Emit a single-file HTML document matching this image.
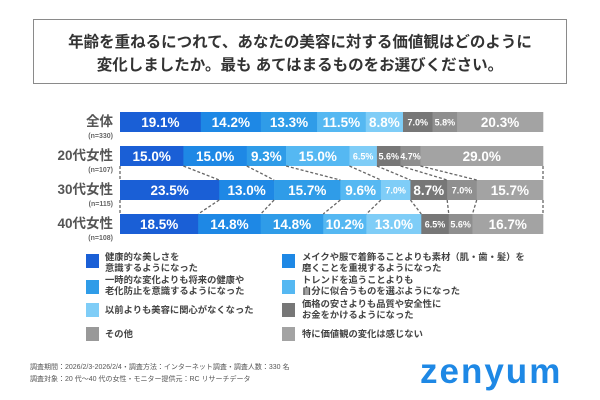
<!DOCTYPE html>
<html><head><meta charset="utf-8"><style>
html,body{margin:0;padding:0;background:#fff;width:600px;height:400px;overflow:hidden}
svg text{font-family:"Liberation Sans","Noto Sans CJK JP",sans-serif}
</style></head><body>
<svg id="s" width="600" height="400" viewBox="0 0 600 400" xmlns="http://www.w3.org/2000/svg">
<rect x="33.5" y="19.5" width="533" height="64" fill="#fff" stroke="#8a8a8a" stroke-width="1"/>
<text x="300" y="47" text-anchor="middle" font-size="15.5" font-weight="bold" fill="#333">年齢を重ねるにつれて、あなたの美容に対する価値観はどのように</text>
<text x="300" y="70" text-anchor="middle" font-size="15.5" font-weight="bold" fill="#333">変化しましたか。最も あてはまるものをお選びください。</text>
<g id="chart"></g>
<g font-size="9.3" font-weight="bold" fill="#444">
<rect x="86" y="254" width="13" height="14" fill="#1a5fd6"/>
<text x="105" y="260">健康的な美しさを</text><text x="105" y="271">意識するようになった</text>
<rect x="86" y="280" width="13" height="14" fill="#2f9ce8"/>
<text x="105" y="283">一時的な変化よりも将来の健康や</text><text x="105" y="294">老化防止を意識するようになった</text>
<rect x="86" y="303" width="13" height="14" fill="#7fcdf7"/>
<text x="105" y="313">以前よりも美容に関心がなくなった</text>
<rect x="86" y="327" width="13" height="14" fill="#999"/>
<text x="105" y="337">その他</text>
<rect x="282" y="254" width="13" height="14" fill="#1e88e5"/>
<text x="302" y="260">メイクや服で着飾ることよりも素材（肌・歯・髪）を</text><text x="302" y="271">磨くことを重視するようになった</text>
<rect x="282" y="280" width="13" height="14" fill="#55b8f2"/>
<text x="302" y="283">トレンドを追うことよりも</text><text x="302" y="294">自分に似合うものを選ぶようになった</text>
<rect x="282" y="303" width="13" height="14" fill="#777"/>
<text x="302" y="307">価格の安さよりも品質や安全性に</text><text x="302" y="318">お金をかけるようになった</text>
<rect x="282" y="327" width="13" height="14" fill="#a3a3a3"/>
<text x="302" y="337">特に価値観の変化は感じない</text>
</g>
<text x="30" y="369" font-size="7" fill="#555">調査期間：2026/2/3-2026/2/4・調査方法：インターネット調査・調査人数：330 名</text>
<text x="30" y="381" font-size="7" fill="#555">調査対象：20 代～40 代の女性・モニター提供元：RC リサーチデータ</text>
<text x="420" y="383" font-size="35" font-weight="bold" fill="#1e88e5" letter-spacing="2">zenyum</text>
</svg>
<script>
var cols=["#1a5fd6","#1e88e5","#2f9ce8","#55b8f2","#7fcdf7","#777777","#8f8f8f","#a3a3a3"];
var rows=[
 {l:"全体",n:"(n=330)",y:112,d:[19.1,14.2,13.3,11.5,8.8,7.0,5.8,20.3]},
 {l:"20代女性",n:"(n=107)",y:146,d:[15.0,15.0,9.3,15.0,6.5,5.6,4.7,29.0]},
 {l:"30代女性",n:"(n=115)",y:180,d:[23.5,13.0,15.7,9.6,7.0,8.7,7.0,15.7]},
 {l:"40代女性",n:"(n=108)",y:214,d:[18.5,14.8,14.8,10.2,13.0,6.5,5.6,16.7]}];
var x0=120,W=423,H=20,g=document.getElementById("chart"),h="";
var bounds=[];
rows.forEach(function(r,ri){
 var s=r.d.reduce(function(a,b){return a+b},0),x=x0,b=[x0];
 h+='<text x="113" y="'+(r.y+14)+'" text-anchor="end" font-size="13.5" font-weight="bold" fill="#555">'+r.l+'</text>';
 h+='<text x="113" y="'+(r.y+26)+'" text-anchor="end" font-size="7" font-weight="bold" fill="#666">'+r.n+'</text>';
 r.d.forEach(function(v,i){
  var w=v/s*W;
  h+='<rect x="'+x+'" y="'+r.y+'" width="'+(w+0.3)+'" height="'+H+'" fill="'+cols[i]+'"/>';
  var small=w<32;
  h+='<text x="'+(x+w/2)+'" y="'+(r.y+(small?13.5:15))+'" text-anchor="middle" font-size="'+(small?9:13.5)+'" font-weight="bold" fill="#fff">'+v.toFixed(1)+'%</text>';
  x+=w;b.push(x);
 });
 bounds.push(b);
});
for(var ri=1;ri<3;ri++){
 var a=bounds[ri],c=bounds[ri+1],y1=rows[ri].y+H,y2=rows[ri+1].y;
 for(var k=0;k<a.length;k++){
  h+='<line x1="'+a[k]+'" y1="'+y1+'" x2="'+c[k]+'" y2="'+y2+'" stroke="#666" stroke-width="1.3" stroke-dasharray="3,2"/>';
 }
}
g.innerHTML=h;
</script>
</body></html>
